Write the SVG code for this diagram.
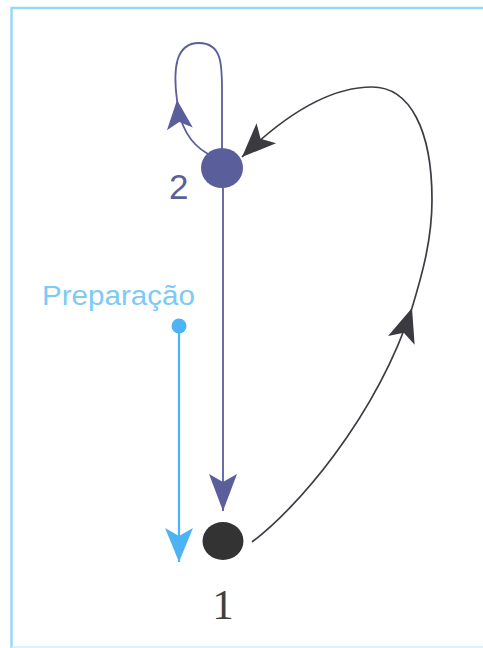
<svg xmlns="http://www.w3.org/2000/svg" width="483" height="648" viewBox="0 0 483 648">
  <style>
    .frame { fill: none; stroke: #93d8f4; stroke-width: 2.4; }
    .edge-blue { fill: none; stroke: #5a5e9a; stroke-width: 1.8; }
    .edge-dark { fill: none; stroke: #3c3c44; stroke-width: 1.7; }
    .edge-light { fill: none; stroke: #4cb3f4; stroke-width: 2.2; }
    .lbl-blue { font-family: "Liberation Sans", Arial, sans-serif; font-size: 35px; fill: #5a5e9a; }
    .lbl-dark { font-family: "Liberation Serif", "Times New Roman", serif; font-size: 43px; fill: #404040; }
    .lbl-light { font-family: "Liberation Sans", Arial, sans-serif; font-size: 27px; fill: #7ccaf5; }
  </style>
  <defs>
    <marker id="arrow-blue" viewBox="-40 -16 42 32" markerWidth="42" markerHeight="32" refX="0" refY="0" orient="auto" markerUnits="userSpaceOnUse">
      <path d="M0,0 L-37,-14 L-29,0 L-37,14 Z" fill="#5a5e9a"/>
    </marker>
    <marker id="arrow-loop" viewBox="-32 -16 34 32" markerWidth="34" markerHeight="32" refX="0" refY="0" orient="auto" markerUnits="userSpaceOnUse">
      <path d="M0,0 L-29,-13 L-22,0 L-29,13 Z" fill="#5a5e9a"/>
    </marker>
    <marker id="arrow-dark" viewBox="-36 -16 38 32" markerWidth="38" markerHeight="32" refX="0" refY="0" orient="auto" markerUnits="userSpaceOnUse">
      <path d="M0,0 L-34,-14 L-26,0 L-34,14 Z" fill="#3a3a40"/>
    </marker>
    <marker id="arrow-light" viewBox="-36 -16 38 32" markerWidth="38" markerHeight="32" refX="0" refY="0" orient="auto" markerUnits="userSpaceOnUse">
      <path d="M0,0 L-34,-14 L-26,0 L-34,14 Z" fill="#4cb3f4"/>
    </marker>
  </defs>

  <rect width="483" height="648" fill="#ffffff"/>

  <!-- outer frame: open on the right -->
  <path class="frame" d="M483,8 L11.5,8 L11.5,648"/>
  <path d="M11.5,647 L483,647" fill="none" stroke="#cfeefa" stroke-width="1.5"/>

  <g id="connectors">
    <!-- self-loop on state 2 -->
    <path class="edge-blue" d="M208,154 C192,145 180,130 177,100" marker-end="url(#arrow-loop)"/>
    <path class="edge-blue" d="M177,100 C173,70 175,43 199,43 C222,43 222,65 222,90 L222,152"/>
    <!-- 2 to 1 -->
    <path class="edge-blue" d="M223,188 L223,511" marker-end="url(#arrow-blue)"/>
    <!-- 1 back to 2 -->
    <path class="edge-dark" d="M252,542 C295,510 375,420 412,308" marker-end="url(#arrow-dark)"/>
    <path class="edge-dark" d="M412,308 C422,275 432,240 432,200 C432,130 410,87 372,87 C330,87 285,115 242,157" marker-end="url(#arrow-dark)"/>
    <!-- preparation entry -->
    <path class="edge-light" d="M179,325 L179,562" marker-end="url(#arrow-light)"/>
  </g>

  <g id="node-2">
    <ellipse cx="222" cy="168" rx="21" ry="20" fill="#5a5e9a"/>
    <text class="lbl-blue" x="169" y="199">2</text>
  </g>

  <g id="node-1">
    <ellipse cx="223" cy="541" rx="20.5" ry="19" fill="#333333"/>
    <text class="lbl-dark" x="223" y="619" text-anchor="middle">1</text>
  </g>

  <g id="preparacao">
    <circle cx="179" cy="326" r="7.5" fill="#4cb3f4"/>
    <text class="lbl-light" x="42" y="305" textLength="153" lengthAdjust="spacingAndGlyphs">Preparação</text>
  </g>
</svg>
